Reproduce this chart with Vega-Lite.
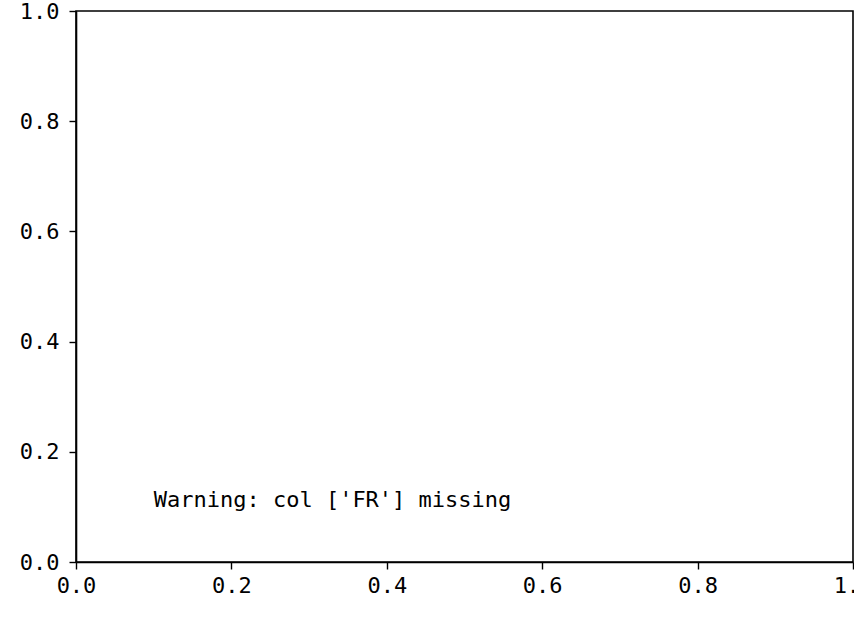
{
  "$schema": "https://vega.github.io/schema/vega-lite/v6.json",
  "width": 777,
  "height": 551,
  "autosize": {"type": "none"},
  "padding": {"left": 76, "top": 11, "right": 1, "bottom": 78},
  "background": "white",
  "config": {
    "view": {"stroke": "black", "strokeWidth": 1.6},
    "axis": {
      "labelFont": "DejaVu Sans Mono",
      "labelFontSize": 22,
      "labelColor": "black",
      "tickColor": "black",
      "tickSize": 7,
      "tickWidth": 1.4,
      "domainColor": "black",
      "domainWidth": 1.6,
      "grid": false,
      "title": null
    }
  },
  "data": {"values": [{"x": 0.1, "y": 0.1, "label": "Warning: col ['FR'] missing"}]},
  "mark": {"type": "text", "align": "left", "baseline": "alphabetic", "font": "DejaVu Sans Mono", "fontSize": 22, "color": "black"},
  "encoding": {
    "x": {"field": "x", "type": "quantitative", "scale": {"domain": [0, 1], "nice": false, "zero": false},
      "axis": {"values": [0, 0.2, 0.4, 0.6, 0.8, 1.0], "format": ".1f", "labelPadding": 6, "labelFlush": false, "labelOverlap": false}},
    "y": {"field": "y", "type": "quantitative", "scale": {"domain": [0, 1], "nice": false, "zero": false},
      "axis": {"values": [0, 0.2, 0.4, 0.6, 0.8, 1.0], "format": ".1f", "labelPadding": 10, "labelFlush": false, "labelOverlap": false}},
    "text": {"field": "label"}
  }
}
